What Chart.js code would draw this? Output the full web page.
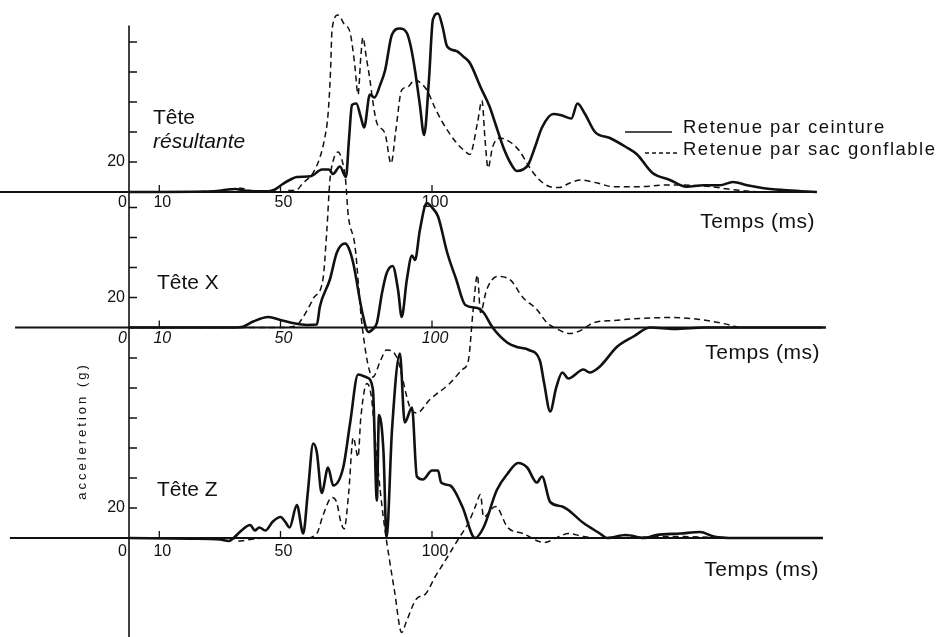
<!DOCTYPE html>
<html lang="fr">
<head>
<meta charset="utf-8">
<title>Accélération de la tête</title>
<script src="https://cdn.jsdelivr.net/npm/chart.js@4.4.1/dist/chart.umd.min.js"></script>
<style>
  html, body { margin: 0; padding: 0; background: #fff; }
  #wrap { position: relative; width: 941px; height: 637px; }
</style>
</head>
<body>
<div id="wrap"><canvas id="chart" width="941" height="637"></canvas></div>
<script>
// time (ms), acceleration (g)
const resultanteCeinture = [
  [0,0],[28,0.5],[32,1.5],[35,2],[38,1],[42,0.5],[46,0.5],[48,1.5],[50.5,5],[53,8],[55.4,10],[60,10.5],
  [63.7,15],[66,15],[67.3,12],[69.6,17],[71.6,10],[72.6,35],[73.6,58],[75,59],[76.5,50],[77.6,43],
  [79.5,65],[81,63],[83,72],[84.5,81],[86.8,105],[89.4,109],[91.7,106],[93,97],[94.4,81],[96,58],
  [97.4,38],[99,75],[100.3,115],[102,119],[103.5,110],[105,97],[108,94],[110.5,90],[112.5,86],[116,70],
  [119,57],[121,45],[123.5,30],[126,19],[128,14],[130,15],[131.7,18],[134,30],[136.3,43],[140,52],
  [142.9,51],[146,49],[148,59],[150.5,52],[153.8,40],[158.7,36],[164,30],[167.7,25],[172.6,13],
  [178.5,8],[184,3.5],[189.5,4.5],[195,4.5],[199.3,6.7],[204,4.5],[209,2.7],[216,1.3],[222,0.5],[227,0]
];
const resultanteSac = [
  [0,0],[30,0.5],[34,2],[37,2.5],[40,1],[44,0],[50,0],[53,1],[55,1],[57.4,6],[60.7,12.6],[63,23],
  [64.5,35],[65.7,52],[66.5,80],[67,108],[69,118],[71,112],[73,106],[74.5,85],[75.6,65],[76.5,90],
  [77.2,103],[78.3,90],[79.5,75],[80.5,60],[81.8,46],[84.5,39],[86.5,19],[88,40],[90,68],[92,70],
  [94.4,75],[96,73],[98.3,68],[101,56],[103.6,46],[108,33],[111,27],[112.5,25],[115,46],[116.5,61],
  [117.5,35],[118.5,16],[120,30],[122.4,36],[126,33],[129,27],[132,17],[135,9],[139,3.5],[142,3],
  [145.5,6],[149,8],[154.5,6],[160,3.5],[167.7,3.5],[178.5,4.7],[189.5,4],[200.6,1.3],[208,0]
];
const xCeinture = [
  [0,0],[35,0],[37.6,0.5],[41,4],[46,7],[50,5],[54,3],[58.7,1.7],[62,2],[63,14],[66.3,32],[68.6,50],
  [71.3,56],[72.5,53],[74,43],[77,10],[79,-3],[80.5,-1],[81.8,3],[83.5,23],[85,36],[87,41],[88.8,25],
  [90,7],[91.7,32],[93.4,48],[94.4,45],[96,65],[98.3,83],[100,80],[102,74],[105,50],[108,32],[111,15],
  [115,13],[117,10],[120,0],[124.8,-10],[128,-13],[132,-15],[135.6,-22],[137,-37],[139,-56],[141,-40],
  [143,-30],[145,-34],[150,-28],[152,-30],[155.4,-26],[161,-13],[166.5,-6],[172,0],[180,-1],[190,0],[230,0]
];
const xSac = [
  [0,0],[50,0],[55,1],[57.5,7],[60,16],[61,20],[64,32],[65.3,65],[66.3,98],[67.5,112],[69,117],
  [70.5,110],[71.5,98],[72.3,76],[74.6,54],[77,0],[80.5,-33],[83,-22],[85,-15],[88.4,-20],[92.7,-53],
  [95,-57],[99.3,-48],[106,-37],[110,-28],[112,-22],[113.5,10],[115,35],[116,10],[118,25],[121.5,34],
  [125.7,32],[130,20],[134.6,12],[138,3],[141,-0.7],[145.5,-4],[150,-1],[153,3],[160,4.7],[168.6,6],
  [179.5,6.7],[188.4,5.3],[196,2.7],[201.6,0]
];
const zCeinture = [
  [0,0],[20,-0.5],[30,-1],[33,-2],[34.5,0],[36.6,4],[40,8.7],[41.5,5],[43,7],[45,5],[47.5,11],[50,14],
  [51.5,11],[53,7],[55.4,22],[57.5,3],[59,30],[60.8,63],[62,57],[63.6,30],[65.7,47],[67.4,35],[70.7,47],
  [73,77],[75.6,109],[78.5,107],[80.5,99],[81.8,25],[82.5,82],[84,57],[85,0],[86.8,72],[89.4,123],
  [91,77],[93.4,87],[95,41],[97,39],[100,45],[102,45],[103,37],[106,35],[110,21],[114.2,0],[117,7],
  [121.4,32],[125,43],[128.4,50],[131.4,47],[134.6,37],[136.3,41],[139,24],[143,21],[150,10],[155.4,3],
  [157.7,0],[164,2],[170,0],[174,2],[182,3],[188.5,4],[193,1],[200,0],[229,0]
];
const zSac = [
  [0,0],[34,0],[36,-2],[40,-1],[45,0],[52,0],[58,0],[62,3],[64,15],[67,27],[68.5,24],[70,10],[71,6],
  [72.5,30],[74,67],[75.6,54],[76.5,80],[78.5,103],[80,94],[81.5,60],[83,30],[84.5,5],[86,-15],
  [87.6,-35],[90,-63],[91.5,-56],[94.7,-41],[98,-37],[101,-26],[105,-13],[108.6,-1],[112,10],[114.5,22],
  [116,29],[117,14],[121,21],[125,7],[130,3],[137,-3],[142,1],[145,3],[150,1],[155,0],[180,1],[200,0]
];

const timeTicks = [10, 50, 100];
const gTicksTop = [20, 40, 60, 80, 100];
const gTicksMid = [20, 40, 60, 80];
const gTicksBot = [20, 40, 60, 80, 100, 120];
const legendLabels = ["Retenue par ceinture", "Retenue par sac gonflable"];

// layout (pixels)
const W = 941, H = 637;
const AXIS_X = 129, PX_MS = 3.03, PX_G = 1.5;
const FONT = '"Liberation Sans", Arial, Helvetica, sans-serif';

const panels = [
  { id: "yTop", base: 192, from: -42.6, to: 227, ticks: gTicksTop, italic: false, labelDy: 11,
    title: ["Tête", "résultante"], titleX: 153, titleY: [118, 142], tempsRight: 815, tempsY: 222 },
  { id: "yMid", base: 327.5, from: -37.6, to: 228.7, ticks: gTicksMid, italic: true, labelDy: 11,
    title: ["Tête X"], titleX: 157, titleY: [283], tempsRight: 820, tempsY: 353 },
  { id: "yBot", base: 538, from: -39.3, to: 229, ticks: gTicksBot, italic: false, labelDy: 14,
    title: ["Tête Z"], titleX: 157, titleY: [490], tempsRight: 819, tempsY: 570 }
];

const pts = arr => arr.map(([x, y]) => ({ x, y }));
const solid = (data, yAxisID) => ({
  data: pts(data), yAxisID, borderColor: "#111", borderWidth: 2.6, pointRadius: 0,
  cubicInterpolationMode: "monotone", fill: false
});
const dashed = (data, yAxisID) => ({
  data: pts(data), yAxisID, borderColor: "#111", borderWidth: 1.5, borderDash: [6, 4],
  pointRadius: 0, cubicInterpolationMode: "monotone", fill: false
});

const yScales = {};
panels.forEach(p => {
  yScales[p.id] = { type: "linear", display: false, min: -(H - p.base) / PX_G, max: p.base / PX_G };
});

const panelAxes = {
  id: "panelAxes",
  beforeDatasetsDraw(chart) {
    const ctx = chart.ctx, xs = chart.scales.x;
    const x0 = xs.getPixelForValue(0);
    ctx.save();
    ctx.strokeStyle = "#111";
    ctx.fillStyle = "#111";
    // shared vertical axis
    ctx.lineWidth = 1.6;
    ctx.beginPath();
    ctx.moveTo(x0, chart.scales.yTop.getPixelForValue(111));
    ctx.lineTo(x0, H);
    ctx.stroke();
    panels.forEach(p => {
      const ys = chart.scales[p.id];
      const yb = ys.getPixelForValue(0);
      ctx.lineWidth = 2;
      ctx.beginPath();
      ctx.moveTo(xs.getPixelForValue(p.from), yb);
      ctx.lineTo(xs.getPixelForValue(p.to), yb);
      ctx.stroke();
      ctx.lineWidth = 1.3;
      ctx.beginPath();
      timeTicks.forEach(t => {
        const px = xs.getPixelForValue(t);
        ctx.moveTo(px, yb); ctx.lineTo(px, yb - 7);
      });
      p.ticks.forEach(g => {
        const py = ys.getPixelForValue(g);
        ctx.moveTo(x0, py); ctx.lineTo(x0 + 8, py);
      });
      ctx.stroke();
      // tick labels
      ctx.font = (p.italic ? "italic " : "") + "16px " + FONT;
      ctx.textBaseline = "middle";
      ctx.textAlign = "right";
      ctx.fillText("0", x0 - 2, yb + p.labelDy);
      ctx.textAlign = "center";
      timeTicks.forEach(t => ctx.fillText(String(t), xs.getPixelForValue(t) + 3, yb + p.labelDy));
      ctx.font = "16px " + FONT;
      ctx.textAlign = "right";
      ctx.fillText("20", x0 - 4, ys.getPixelForValue(20));
    });
    ctx.restore();
  },
  afterDraw(chart) {
    const ctx = chart.ctx;
    ctx.save();
    ctx.fillStyle = "#111";
    ctx.strokeStyle = "#111";
    ctx.textBaseline = "middle";
    panels.forEach(p => {
      ctx.textAlign = "left";
      p.title.forEach((txt, i) => {
        ctx.font = (i === 1 ? "italic " : "") + "21px " + FONT;
        ctx.fillText(txt, p.titleX, p.titleY[i]);
      });
      ctx.font = "21px " + FONT;
      ctx.textAlign = "right";
      ctx.letterSpacing = "0.5px";
      ctx.fillText("Temps (ms)", p.tempsRight, p.tempsY);
      ctx.letterSpacing = "0px";
    });
    // legend
    ctx.lineWidth = 1.6;
    ctx.beginPath(); ctx.moveTo(625, 132); ctx.lineTo(672, 132); ctx.stroke();
    ctx.lineWidth = 1.3;
    ctx.setLineDash([4, 3]);
    ctx.beginPath(); ctx.moveTo(645, 153); ctx.lineTo(680, 153); ctx.stroke();
    ctx.setLineDash([]);
    ctx.font = "18.5px " + FONT;
    ctx.textAlign = "left";
    ctx.letterSpacing = "1.5px";
    ctx.fillText(legendLabels[0], 683, 128);
    ctx.fillText(legendLabels[1], 683, 150);
    // y title
    ctx.font = "13px " + FONT;
    ctx.letterSpacing = "3px";
    ctx.translate(82, 431);
    ctx.rotate(-Math.PI / 2);
    ctx.textAlign = "center";
    ctx.fillText("acceleretion (g)", 0, 0);
    ctx.restore();
  }
};

new Chart(document.getElementById("chart"), {
  type: "line",
  data: {
    datasets: [
      solid(resultanteCeinture, "yTop"), dashed(resultanteSac, "yTop"),
      solid(xCeinture, "yMid"), dashed(xSac, "yMid"),
      solid(zCeinture, "yBot"), dashed(zSac, "yBot")
    ]
  },
  options: {
    responsive: false,
    animation: false,
    devicePixelRatio: 1,
    layout: { padding: 0 },
    plugins: { legend: { display: false }, tooltip: { enabled: false } },
    scales: Object.assign({
      x: { type: "linear", display: false, min: -AXIS_X / PX_MS, max: (W - AXIS_X) / PX_MS }
    }, yScales)
  },
  plugins: [panelAxes]
});
</script>
</body>
</html>
